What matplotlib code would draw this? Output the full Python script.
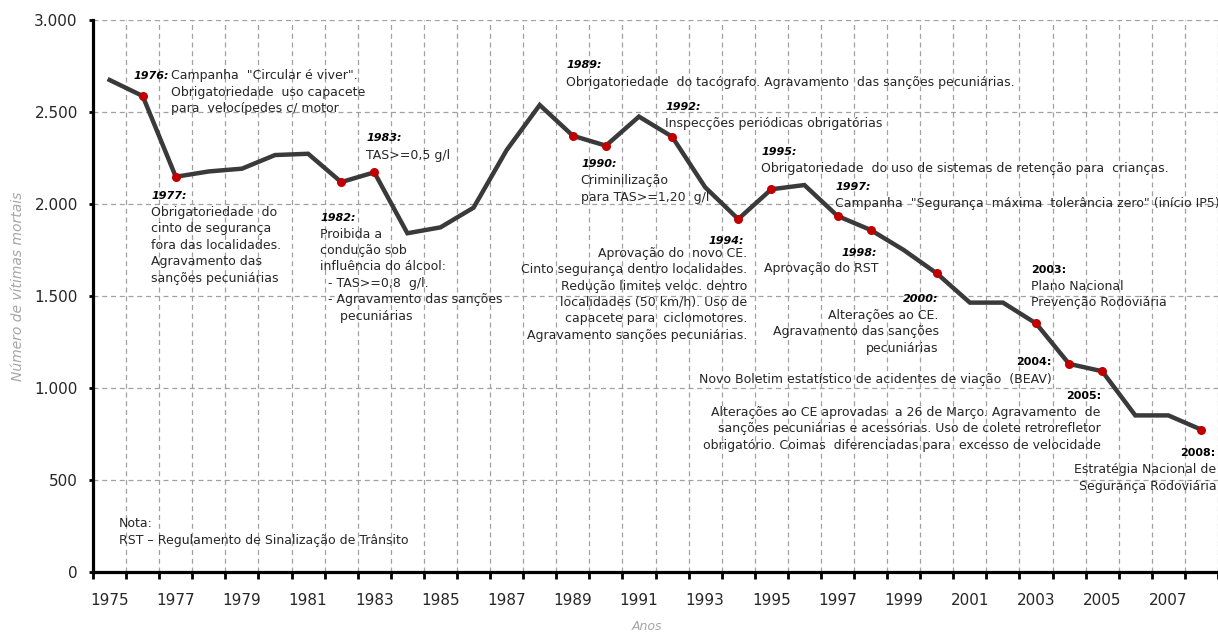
"""Vítimas mortais em acidentes de viação (1975-2008) com as principais medidas legislativas."""

import matplotlib

matplotlib.use("Agg")
import matplotlib.pyplot as plt
from matplotlib.ticker import FixedLocator, FuncFormatter, NullFormatter

anos = [1975, 1976, 1977, 1978, 1979, 1980, 1981, 1982, 1983, 1984, 1985, 1986,
        1987, 1988, 1989, 1990, 1991, 1992, 1993, 1994, 1995, 1996, 1997, 1998,
        1999, 2000, 2001, 2002, 2003, 2004, 2005, 2006, 2007, 2008]
vitimas = [2674, 2587, 2148, 2177, 2192, 2266, 2273, 2119, 2172, 1841, 1873, 1980,
           2293, 2538, 2371, 2317, 2475, 2366, 2091, 1918, 2080, 2103, 1935, 1859,
           1750, 1623, 1464, 1464, 1351, 1131, 1091, 851, 851, 773]
anos_marcados = [1976, 1977, 1982, 1983, 1989, 1990, 1992, 1994, 1995, 1997,
                 1998, 2000, 2003, 2004, 2005, 2008]
rotulos_x = [1975, 1977, 1979, 1981, 1983, 1985, 1987, 1989, 1991, 1993, 1995,
             1997, 1999, 2001, 2003, 2005, 2007]
ticks_y = [0, 500, 1000, 1500, 2000, 2500, 3000]

# (texto, x, y, alinhamento, estilo) -- ano de cada medida
anos_notas = [
    ("1976:", 1975.725, 2696, "left", "italic"),
    ("1977:", 1976.254, 2044, "left", "italic"),
    ("1982:", 1981.367, 1926, "left", "italic"),
    ("1983:", 1982.776, 2357, "left", "italic"),
    ("1989:", 1988.820, 2756, "left", "italic"),
    ("1990:", 1989.255, 2217, "left", "italic"),
    ("1992:", 1991.793, 2526, "left", "italic"),
    ("1994:", 1994.160, 1799, "right", "italic"),
    ("1995:", 1994.695, 2284, "left", "italic"),
    ("1997:", 1996.931, 2093, "left", "italic"),
    ("1998:", 1998.188, 1736, "right", "italic"),
    ("2000:", 2000.053, 1485, "right", "italic"),
    ("2003:", 2002.842, 1641, "left", "normal"),
    ("2004:", 2003.468, 1140, "right", "normal"),
    ("2005:", 2004.957, 959, "right", "normal"),
    ("2008:", 2008.414, 647, "right", "normal"),
]

# (linhas, x, y da primeira linha, alinhamento)
textos_notas = [
    (['Campanha  "Circular é viver".', "Obrigatoriedade  uso capacete",
      "para  velocípedes c/ motor"], 1976.843, 2696, "left"),
    (["Obrigatoriedade  do", "cinto de segurança", "fora das localidades.",
      "Agravamento das", "sanções pecuniárias"], 1976.254, 1954, "left"),
    (["Proibida a", "condução sob", "influência do álcool:", "  - TAS>=0,8  g/l.",
      "  - Agravamento das sanções", "     pecuniárias"], 1981.367, 1836, "left"),
    (["TAS>=0,5 g/l"], 1982.737, 2262, "left"),
    (["Obrigatoriedade  do tacógrafo. Agravamento  das sanções pecuniárias."],
     1988.781, 2662, "left"),
    (["Criminilização", "para TAS>=1,20  g/l"], 1989.234, 2126, "left"),
    (["Inspecções periódicas obrigatórias"], 1991.772, 2435, "left"),
    (["Aprovação do  novo CE.", "Cinto segurança dentro localidades.",
      "Redução limites veloc. dentro", "localidades (50 km/h). Uso de",
      "capacete para  ciclomotores.", "Agravamento sanções pecuniárias."],
     1994.259, 1732, "right"),
    (["Obrigatoriedade  do uso de sistemas de retenção para  crianças."],
     1994.695, 2193, "left"),
    (['Campanha  "Segurança  máxima  tolerância zero" (início IP5)'],
     1996.931, 2004, "left"),
    (["Aprovação do RST"], 1998.240, 1649, "right"),
    (["Alterações ao CE.", "Agravamento das sanções", "pecuniárias"],
     2000.053, 1394, "right"),
    (["Plano Nacional", "Prevenção Rodoviária"], 2002.842, 1551, "left"),
    (["Novo Boletim estatístico de acidentes de viação  (BEAV)"],
     2003.468, 1046, "right"),
    (["Alterações ao CE aprovadas  a 26 de Março. Agravamento  de",
      "sanções pecuniárias e acessórias. Uso de colete retrorefletor",
      "obrigatório. Coimas  diferenciadas para  excesso de velocidade"],
     2004.957, 868, "right"),
    (["Estratégia Nacional de", "Segurança Rodoviária"], 2008.454, 556, "right"),
    (["Nota:", "RST – Regulamento de Sinalização de Trânsito"], 1975.272, 261, "left"),
]

PASSO = 11.8  # espaçamento entre linhas (pt)


def main():
    plt.rcParams["font.family"] = ["DejaVu Sans"]
    fig = plt.figure(figsize=(12.18, 6.33), dpi=100)
    ax = fig.add_axes([0.0764, 0.0964, 0.9236, 0.8720])

    # grelha tracejada
    fronteiras = [a - 0.5 for a in anos] + [anos[-1] + 0.5]
    ax.xaxis.set_major_locator(FixedLocator(fronteiras))
    ax.xaxis.set_major_formatter(NullFormatter())
    ax.xaxis.set_minor_locator(FixedLocator(rotulos_x))
    ax.xaxis.set_minor_formatter(FuncFormatter(lambda v, p: f"{v:.0f}"))
    ax.tick_params(axis="x", which="major", direction="out", length=5, width=2,
                   color="black")
    ax.tick_params(axis="x", which="minor", length=0, pad=15, labelsize=11,
                   labelcolor="#262626")
    ax.set_yticks(ticks_y)
    ax.yaxis.set_major_formatter(
        FuncFormatter(lambda v, p: f"{v:,.0f}".replace(",", ".")))
    ax.tick_params(axis="y", direction="out", length=3, width=2, pad=8,
                   labelsize=11, labelcolor="#262626")
    ax.grid(True, which="major", color="#a0a0a0", linestyle=(0, (4, 3)),
            linewidth=0.9)
    ax.set_axisbelow(True)

    ax.set_xlim(anos[0] - 0.5, anos[-1] + 0.5)
    ax.set_ylim(0, 3000)
    for lado in ("top", "right"):
        ax.spines[lado].set_visible(False)
    for lado in ("left", "bottom"):
        ax.spines[lado].set_linewidth(2.3)
        ax.spines[lado].set_color("black")
        ax.spines[lado].set_zorder(5)

    ax.plot(anos, vitimas, color="#3a3a3a", linewidth=3.2, zorder=3,
            solid_joinstyle="miter")
    valores = dict(zip(anos, vitimas))
    ax.plot(anos_marcados, [valores[a] for a in anos_marcados], "o",
            color="#c00000", markersize=6.5, markeredgewidth=0, zorder=4)

    for texto, x, y, ha, estilo in anos_notas:
        ax.text(x, y, texto, ha=ha, va="center", fontsize=8,
                fontweight="bold", style=estilo, color="black", zorder=6)

    for linhas, x, y, ha in textos_notas:
        for i, linha in enumerate(linhas):
            ax.annotate(linha, (x, y), xytext=(0, -i * PASSO),
                        textcoords="offset points", ha=ha, va="center",
                        fontsize=9, color="#262626", zorder=6,
                        annotation_clip=False)

    fig.text(0.0148, 0.548, "Número de vítimas mortais", rotation=90,
             ha="center", va="center", fontsize=10, style="italic",
             color="#a6a6a6")
    fig.text(0.531, 0.011, "Anos", ha="center", va="center", fontsize=9,
             style="italic", color="#a6a6a6")

    fig.savefig("out.png", dpi=100)


if __name__ == "__main__":
    main()
